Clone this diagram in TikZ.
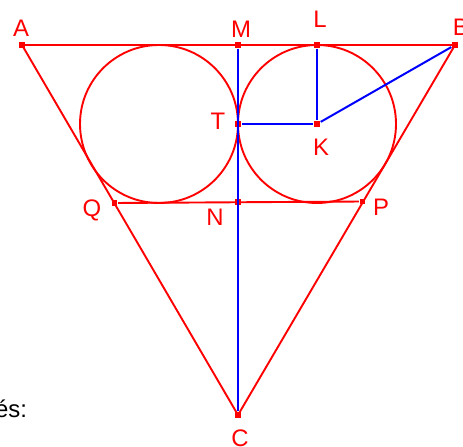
\documentclass[tikz,border=0pt]{standalone}
\usepackage{fontspec}
\setmainfont{Liberation Sans}
\usetikzlibrary{positioning}
\begin{document}
\begin{tikzpicture}[x=1bp,y=-1bp,line width=1.9bp,
  pt/.style={fill=red,inner sep=0pt,minimum size=5.5bp},
  lbl/.style={text=red,inner sep=0pt,font=\fontsize{24}{28}\selectfont},
  seg/.style={draw=blue,line width=2bp}]
\useasboundingbox (0,0) rectangle (463,447);
% points
\node[pt] (A) at (22,45) {};
\node[pt] (B) at (455,45) {};
\node[pt] (C) at (238,415) {};
\node[pt] (M) at (238,45) {};
\node[pt] (L) at (317,45) {};
\node[pt] (T) at (238,124) {};
\node[pt] (K) at (317,124) {};
\node[pt] (Q) at (114.5,203) {};
\node[pt] (P) at (362.5,201.5) {};
\node[pt] (N) at (238,202) {};
\coordinate (O) at (159,124);
% circles and triangle
\draw[red] (O) circle[radius=79];
\draw[red] (K) circle[radius=79];
\draw[red] (A.center) -- (B.center) -- (C.center) -- cycle;
\draw[red] (Q) -- (P);
% blue segments
\draw[seg] (M) -- (C);
\draw[seg] (L) -- (K);
\draw[seg] (T) -- (K);
\draw[seg] (K) -- (B);
% labels
\node[lbl] at (21,28) {A};
\node[lbl] at (241,29) {M};
\node[lbl] at (320,19) {L};
\node[lbl,anchor=south west] at (452,36) {B};
\node[lbl] at (218,121) {T};
\node[lbl] at (321,147) {K};
\node[lbl] at (92,210) {Q};
\node[lbl] at (381,207) {P};
\node[lbl] at (215,217) {N};
\node[lbl,anchor=north] at (240,429) {C};
\node[inner sep=0pt,anchor=base east,font=\fontsize{24}{28}\selectfont] at (28,417) {és:};
\end{tikzpicture}
\end{document}
